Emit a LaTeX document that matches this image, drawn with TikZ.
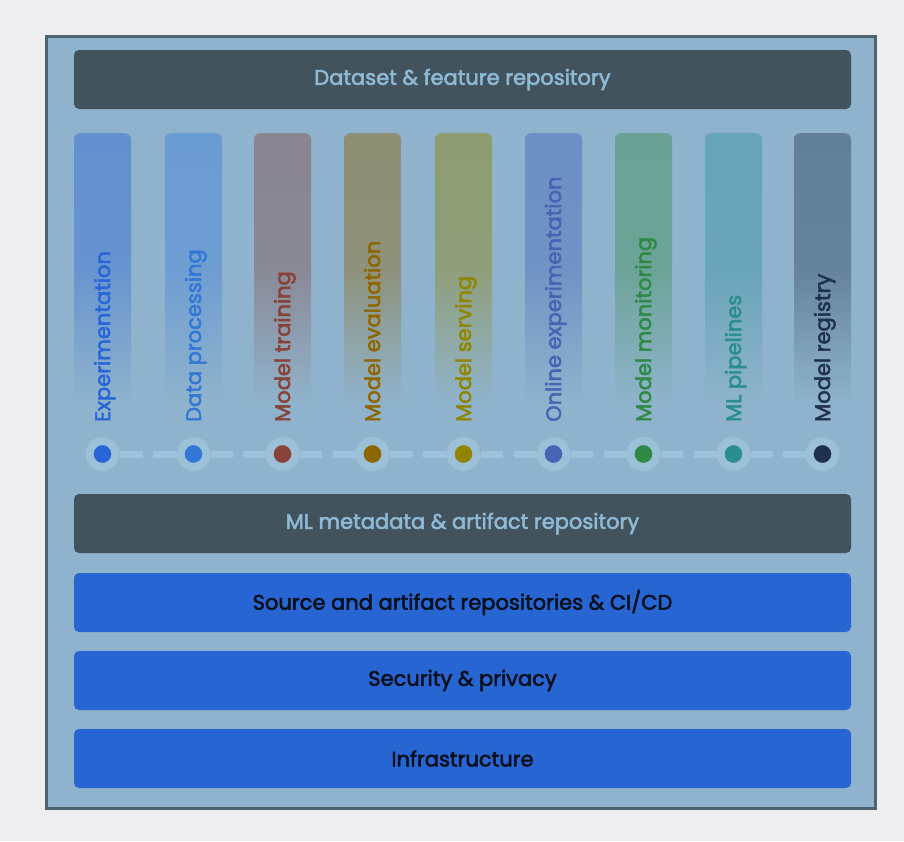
\documentclass[tikz,border=0pt]{standalone}
\usepackage{fontspec}
\setmainfont{Poppins}[UprightFeatures={FakeBold=2.5}]
\usetikzlibrary{calc,backgrounds}

\definecolor{paper}{HTML}{EEEEF1}
\definecolor{panel}{HTML}{8FB3CC}
\definecolor{frame}{HTML}{4E6370}
\definecolor{slate}{HTML}{42535E}
\definecolor{slatetext}{HTML}{8EBAD6}
\definecolor{barblue}{HTML}{2766D2}
\definecolor{bartext}{HTML}{0A0F1E}
\definecolor{halo}{HTML}{9DC0D9}
\definecolor{linkblue}{HTML}{9CC2DC}
% column fills and text colours
\definecolor{fexp}{HTML}{6391CF} \definecolor{texp}{HTML}{2866D7}
\definecolor{fdat}{HTML}{6B9BD3} \definecolor{tdat}{HTML}{3277D6}
\definecolor{ftrn}{HTML}{898591} \definecolor{ttrn}{HTML}{884238}
\definecolor{feva}{HTML}{8E8E74} \definecolor{teva}{HTML}{8D6600}
\definecolor{fsrv}{HTML}{8F9C72} \definecolor{tsrv}{HTML}{8F8500}
\definecolor{fonl}{HTML}{6E8FC4} \definecolor{tonl}{HTML}{4A62B4}
\definecolor{fmon}{HTML}{69A294} \definecolor{tmon}{HTML}{2E8944}
\definecolor{fpip}{HTML}{66A4B6} \definecolor{tpip}{HTML}{2A8D8E}
\definecolor{freg}{HTML}{617F97} \definecolor{treg}{HTML}{1F314F}

\tikzstyle{bar} = [ rounded corners=5pt, minimum width=777pt, minimum height=59pt,
                    inner sep=0pt, font=\fontsize{21}{23}\selectfont]
\tikzstyle{darkbar} = [bar, fill=slate, text=slatetext]
\tikzstyle{bluebar} = [bar, fill=barblue, text=bartext]
\tikzstyle{column} = [ rounded corners=6pt, minimum width=57pt, minimum height=270pt,
                       inner sep=0pt, anchor=north, bottom color=panel]
\tikzstyle{label} = [ rotate=90, anchor=base west, inner sep=0pt,
                      font=\fontsize{21}{23}\selectfont]
\tikzstyle{dot} = [ circle, draw=halo, line width=8pt, minimum size=26pt, inner sep=0pt]
\tikzstyle{link} = [ draw=linkblue, line width=7pt]

\begin{document}
\begin{tikzpicture}[x=1pt,y=-1pt]
  \useasboundingbox (0,0) rectangle (904,841);
  \begin{scope}[on background layer]
    \fill[paper] (0,0) rectangle (904,841);
    \draw[frame, fill=panel, line width=3pt] (46.5,36.5) rectangle (875.5,808.5);
  \end{scope}

  \node[darkbar] at (462.5,79.5) (dataset) {Dataset \& feature repository};

  \node[column, top color=fexp, middle color=fexp!92!panel] at (102.5,133) (colexp) {};
  \node[column, top color=fdat, middle color=fdat!92!panel] at (193.5,133) (coldat) {};
  \node[column, top color=ftrn, middle color=ftrn!92!panel] at (282.5,133) (coltrn) {};
  \node[column, top color=feva, middle color=feva!92!panel] at (372.5,133) (coleva) {};
  \node[column, top color=fsrv, middle color=fsrv!92!panel] at (463.5,133) (colsrv) {};
  \node[column, top color=fonl, middle color=fonl!92!panel] at (553.5,133) (colonl) {};
  \node[column, top color=fmon, middle color=fmon!92!panel] at (643.5,133) (colmon) {};
  \node[column, top color=fpip, middle color=fpip!92!panel] at (733.5,133) (colpip) {};
  \node[column, top color=freg, middle color=freg!92!panel] at (822.5,133) (colreg) {};

  \node[label, text=texp] at (110,422) (labexp) {Experimentation};
  \node[label, text=tdat] at (201,422) (labdat) {Data processing};
  \node[label, text=ttrn] at (290,422) (labtrn) {Model training};
  \node[label, text=teva] at (380,422) (labeva) {Model evaluation};
  \node[label, text=tsrv] at (471,422) (labsrv) {Model serving};
  \node[label, text=tonl] at (561,422) (labonl) {Online experimentation};
  \node[label, text=tmon] at (651,422) (labmon) {Model monitoring};
  \node[label, text=tpip] at (741,422) (labpip) {ML pipelines};
  \node[label, text=treg] at (830,422) (labreg) {Model registry};

  \node[dot, fill=texp] at (102.5,454) (dexp) {};
  \node[dot, fill=tdat] at (193.5,454) (ddat) {};
  \node[dot, fill=ttrn] at (282.5,454) (dtrn) {};
  \node[dot, fill=teva] at (372.5,454) (deva) {};
  \node[dot, fill=tsrv] at (463.5,454) (dsrv) {};
  \node[dot, fill=tonl] at (553.5,454) (donl) {};
  \node[dot, fill=tmon] at (643.5,454) (dmon) {};
  \node[dot, fill=tpip] at (733.5,454) (dpip) {};
  \node[dot, fill=treg] at (822.5,454) (dreg) {};

  \begin{scope}[on background layer]
    \draw[link] (dexp) -- ($(dexp)!.44!(ddat)$);  \draw[link] ($(dexp)!.56!(ddat)$) -- (ddat);
    \draw[link] (ddat) -- ($(ddat)!.44!(dtrn)$);  \draw[link] ($(ddat)!.56!(dtrn)$) -- (dtrn);
    \draw[link] (dtrn) -- ($(dtrn)!.44!(deva)$);  \draw[link] ($(dtrn)!.56!(deva)$) -- (deva);
    \draw[link] (deva) -- ($(deva)!.44!(dsrv)$);  \draw[link] ($(deva)!.56!(dsrv)$) -- (dsrv);
    \draw[link] (dsrv) -- ($(dsrv)!.44!(donl)$);  \draw[link] ($(dsrv)!.56!(donl)$) -- (donl);
    \draw[link] (donl) -- ($(donl)!.44!(dmon)$);  \draw[link] ($(donl)!.56!(dmon)$) -- (dmon);
    \draw[link] (dmon) -- ($(dmon)!.44!(dpip)$);  \draw[link] ($(dmon)!.56!(dpip)$) -- (dpip);
    \draw[link] (dpip) -- ($(dpip)!.44!(dreg)$);  \draw[link] ($(dpip)!.56!(dreg)$) -- (dreg);
  \end{scope}

  \node[darkbar] at (462.5,523.5) (meta) {ML metadata \& artifact repository};
  \node[bluebar] at (462.5,602.5) (source) {Source and artifact repositories \& CI/CD};
  \node[bluebar] at (462.5,680.5) (security) {Security \& privacy};
  \node[bluebar] at (462.5,758.5) (infra) {Infrastructure};
\end{tikzpicture}
\end{document}
